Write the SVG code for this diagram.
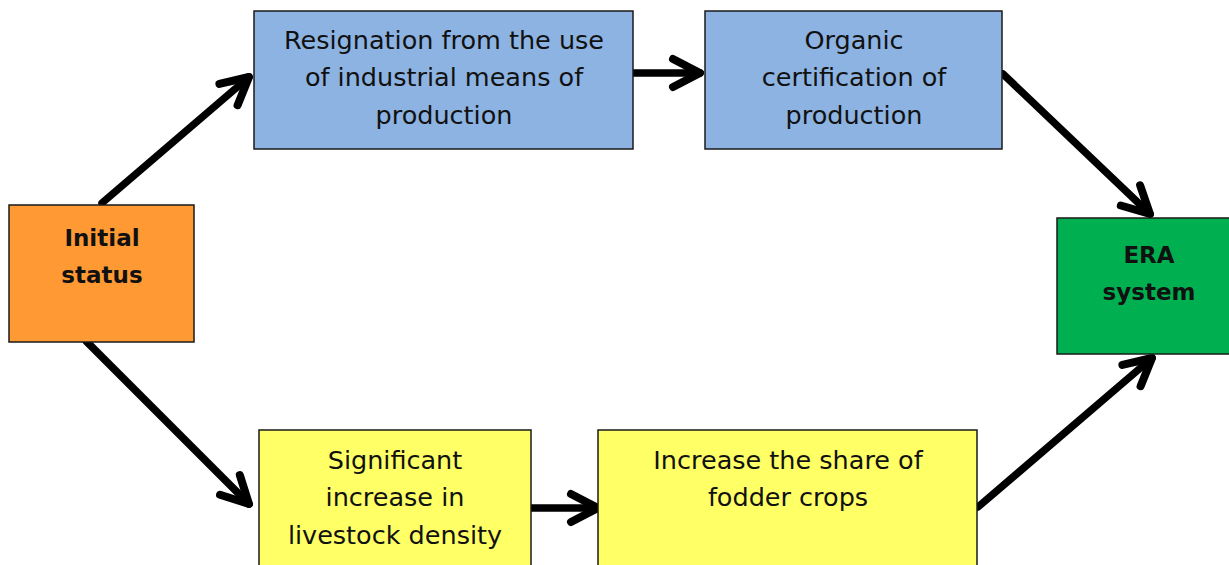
<svg xmlns="http://www.w3.org/2000/svg" width="1229" height="565" viewBox="0 0 1229 565">
<style>
.box{stroke:#1a1a1a;stroke-width:1.5}
.t{font-family:"DejaVu Sans","Liberation Sans",Arial,sans-serif;font-size:25.5px;fill:#111;text-anchor:middle}
.b{font-weight:bold;font-size:23px}
.c{fill:none;stroke:#000;stroke-width:7.5;stroke-linecap:round}
</style>
<defs>
<marker id="ah" markerUnits="userSpaceOnUse" markerWidth="50" markerHeight="50" viewBox="-40 -25 50 50" refX="0" refY="0" orient="auto">
<path d="M-27,-14 L0,0 L-27,14" fill="none" stroke="#000" stroke-width="8" stroke-linecap="round" stroke-linejoin="round"/>
</marker>
</defs>
<rect width="1229" height="565" fill="#fff"/>
<g id="connectors">
<path class="c" d="M102,203 L249,77" marker-end="url(#ah)"/>
<path class="c" d="M634,73 L700,73" marker-end="url(#ah)"/>
<path class="c" d="M1003,74 L1150,214" marker-end="url(#ah)"/>
<path class="c" d="M86,341 L249,504" marker-end="url(#ah)"/>
<path class="c" d="M532,508 L598,508" marker-end="url(#ah)"/>
<path class="c" d="M978,507 L1152,358" marker-end="url(#ah)"/>
</g>
<g id="initial">
<rect class="box" x="9" y="205" width="185" height="137" fill="#FF9933"/>
<text class="t b" x="102" y="246">Initial</text>
<text class="t b" x="102" y="283">status</text>
</g>
<g id="resignation">
<rect class="box" x="254" y="11" width="379" height="138" fill="#8DB3E2"/>
<text class="t" x="444" y="49">Resignation from the use</text>
<text class="t" x="444" y="86">of industrial means of</text>
<text class="t" x="444" y="124">production</text>
</g>
<g id="organic">
<rect class="box" x="705" y="11" width="297" height="138" fill="#8DB3E2"/>
<text class="t" x="854" y="49">Organic</text>
<text class="t" x="854" y="86">certification of</text>
<text class="t" x="854" y="124">production</text>
</g>
<g id="era">
<rect class="box" x="1057" y="218" width="175" height="136" fill="#00B050"/>
<text class="t b" x="1149" y="263">ERA</text>
<text class="t b" x="1149" y="300">system</text>
</g>
<g id="significant">
<rect class="box" x="259" y="430" width="272" height="140" fill="#FFFF66"/>
<text class="t" x="395" y="469">Significant</text>
<text class="t" x="395" y="506">increase in</text>
<text class="t" x="395" y="544">livestock density</text>
</g>
<g id="fodder">
<rect class="box" x="598" y="430" width="379" height="140" fill="#FFFF66"/>
<text class="t" x="788" y="469">Increase the share of</text>
<text class="t" x="788" y="506">fodder crops</text>
</g>
</svg>
